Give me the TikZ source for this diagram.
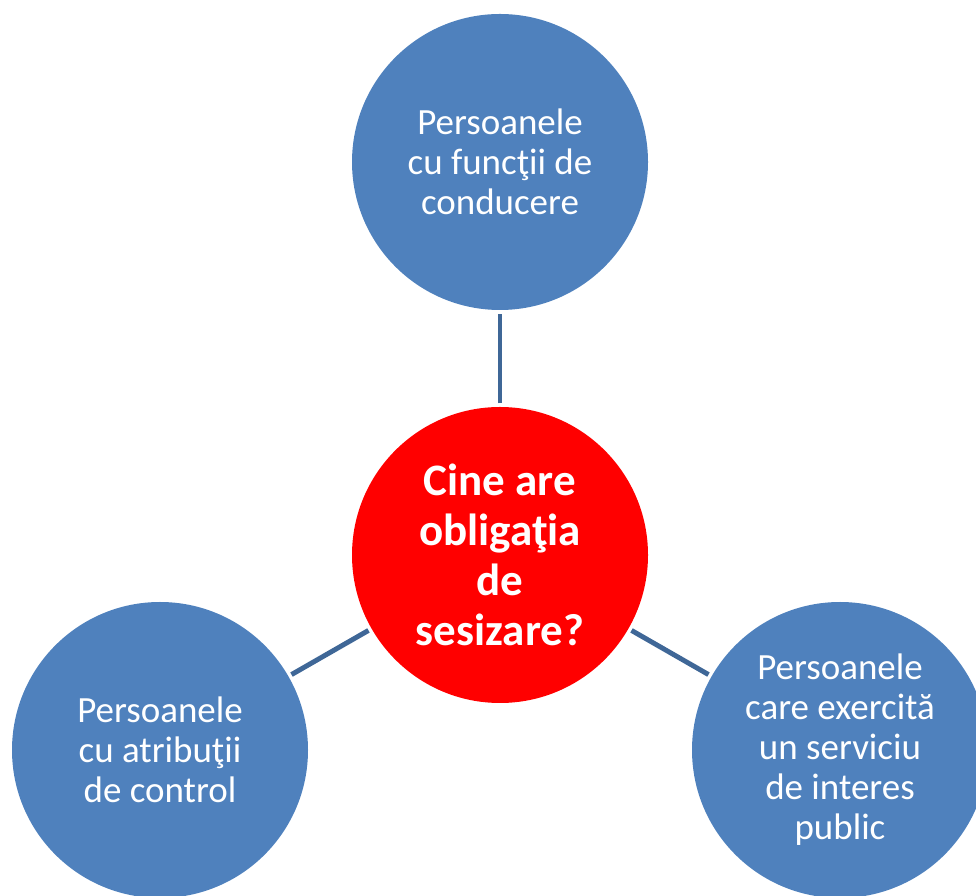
\documentclass[tikz,border=0pt]{standalone}
\usepackage{fontspec}
\setmainfont{Carlito}
\usepackage{tikz}

\definecolor{bulblue}{HTML}{4F81BD}
\definecolor{linkblue}{HTML}{3F6797}
\definecolor{bulred}{HTML}{FF0000}

\begin{document}
\begin{tikzpicture}[
    bubble/.style={circle, fill=bulblue, text=white, minimum size=7.4cm, inner sep=0pt,
      outer sep=0.09cm, align=center, font=\fontsize{26.3}{28.5}\selectfont},
    question/.style={bubble, fill=bulred, font=\bfseries\fontsize{32}{35.5}\selectfont},
    link/.style={draw=linkblue, line width=3.5pt}
  ]
    % Page size (976 x 895 px)
    \useasboundingbox (0,0) rectangle (24.4,22.375);

    % Central question
    \node[question] (intrebare) at (12.5,8.5) {Cine are\\obligaţia\\de\\sesizare?};

    % Outer bubbles
    \node[bubble] (conducere) at (12.5,18.325) {Persoanele\\cu funcţii de\\conducere};
    \node[bubble] (control) at (4.0,3.625) {Persoanele\\cu atribuţii\\de control};
    \node[bubble] (serviciu) at (21.0,3.625) {Persoanele\\care exercită\\un serviciu\\de interes\\public};

    % Connectors
    \foreach \n in {conducere,control,serviciu}
      \draw[link] (intrebare) -- (\n);
\end{tikzpicture}
\end{document}
